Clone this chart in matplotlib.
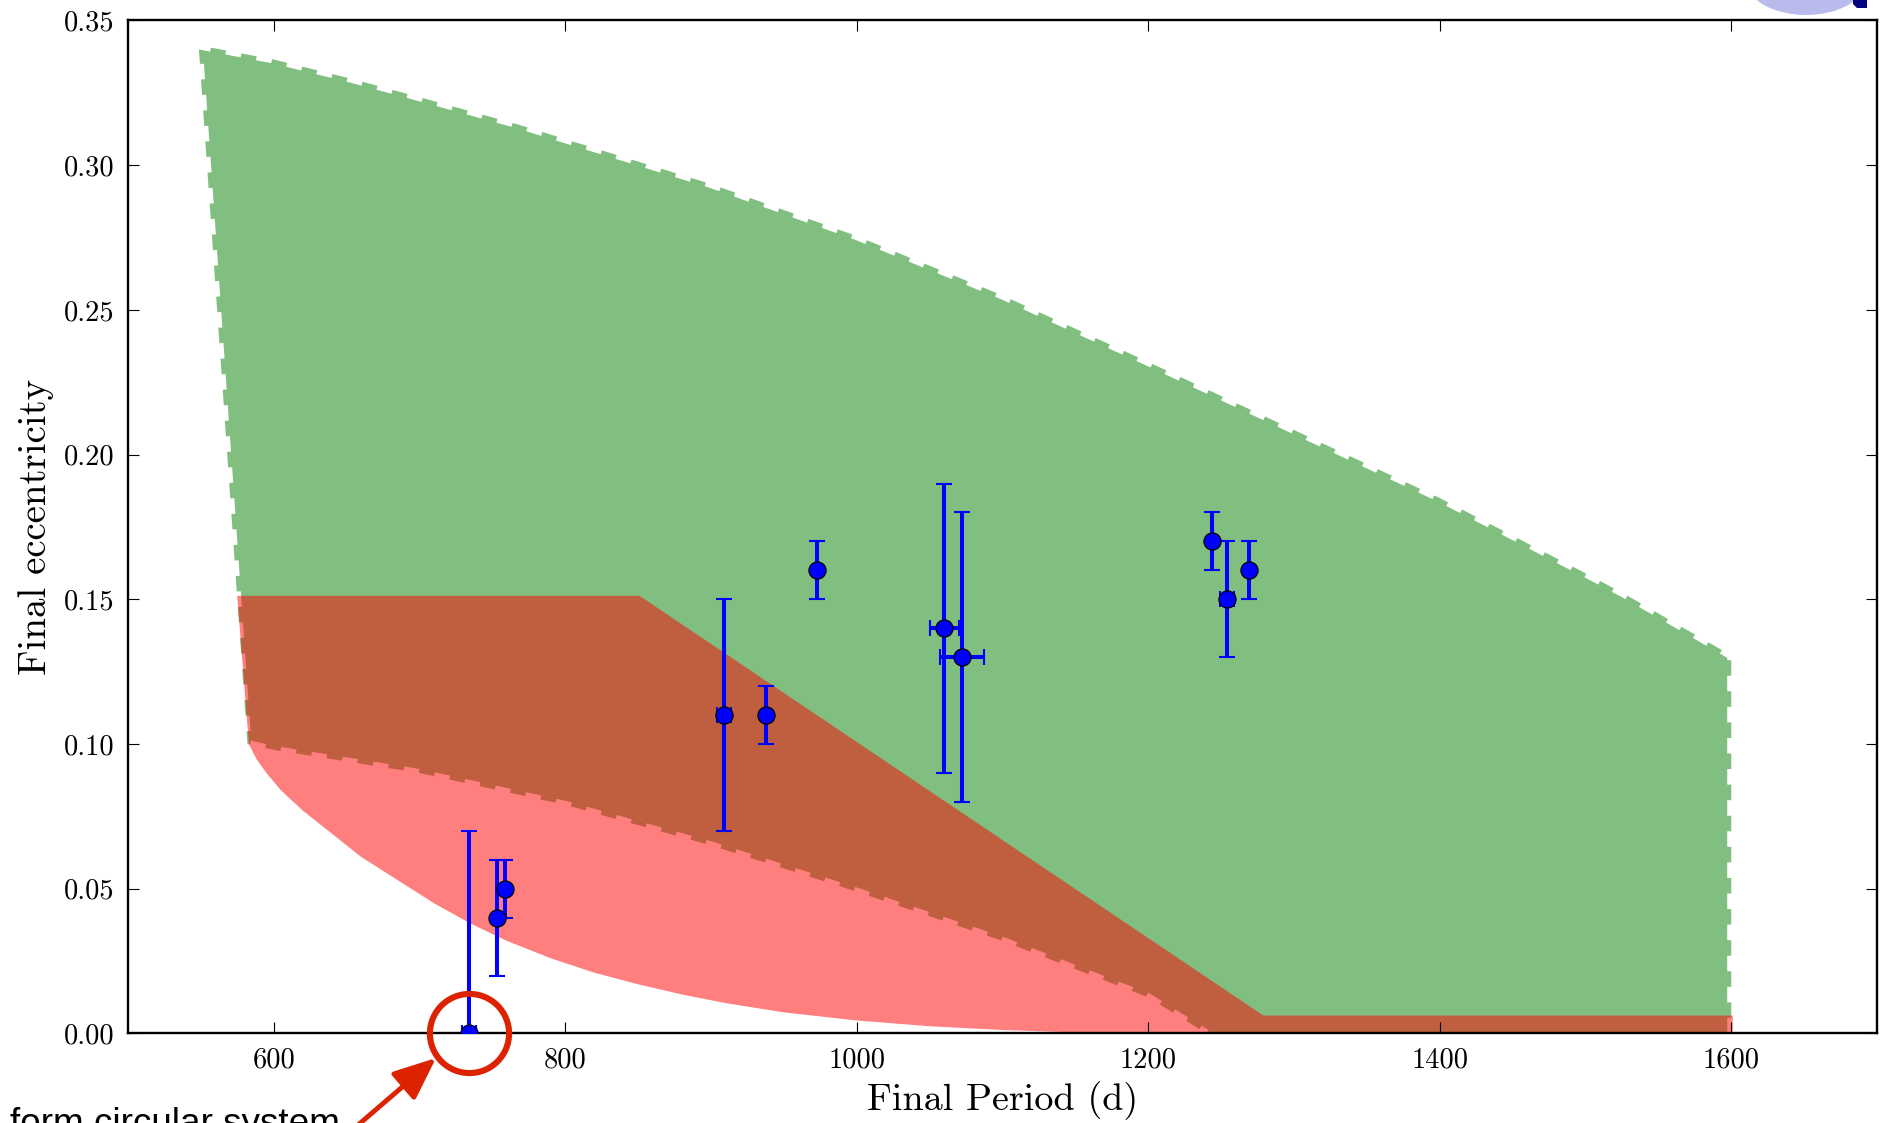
import matplotlib
matplotlib.use('Agg')
import matplotlib.pyplot as plt
from matplotlib.patches import Ellipse, Polygon
from matplotlib.transforms import IdentityTransform

plt.rcParams['font.family'] = 'serif'
plt.rcParams['font.serif'] = ['cmr10']
plt.rcParams['axes.formatter.use_mathtext'] = True
plt.rcParams['lines.scale_dashes'] = False

# observed systems
period = [734, 753, 759, 909, 938, 973, 1060, 1072, 1244, 1254, 1269]
ecc = [0.00, 0.04, 0.05, 0.11, 0.11, 0.16, 0.14, 0.13, 0.17, 0.15, 0.16]
ecc_lo = [0.00, 0.02, 0.01, 0.04, 0.01, 0.01, 0.05, 0.05, 0.01, 0.02, 0.01]
ecc_hi = [0.07, 0.02, 0.01, 0.04, 0.01, 0.01, 0.05, 0.05, 0.01, 0.02, 0.01]
period_err = [5, 0, 0, 5, 0, 0, 10, 15, 0, 5, 0]

# green model region
top_p = [548.5, 600, 653.7, 700, 768, 800, 900, 1000, 1100, 1200, 1300, 1400, 1500, 1528, 1600]
top_e = [0.3414, 0.3365, 0.3298, 0.3235, 0.3140, 0.309, 0.2935, 0.2755, 0.2550, 0.2320, 0.2085, 0.1850, 0.1590, 0.1515, 0.1306]
low_p = [582, 600, 700, 800, 900, 1000, 1100, 1200, 1240]
low_e = [0.100, 0.098, 0.090, 0.079, 0.065, 0.049, 0.032, 0.0125, 0.0]

# red model region
red_top_p = [575, 851, 1279, 1601]
red_top_e = [0.1512, 0.1512, 0.0062, 0.0062]
red_low_p = [583, 588, 595, 605, 620, 640, 660, 685, 710, 735, 760, 790, 820, 850,
             880, 910, 950, 1000, 1050, 1100, 1150, 1200]
red_low_e = [0.100, 0.095, 0.090, 0.084, 0.077, 0.069, 0.061, 0.053, 0.045, 0.038,
             0.032, 0.026, 0.021, 0.017, 0.0135, 0.0105, 0.0073, 0.0045, 0.0025,
             0.0012, 0.0004, 0.0]

xticks = [600, 800, 1000, 1200, 1400, 1600]
yticks = [0.00, 0.05, 0.10, 0.15, 0.20, 0.25, 0.30, 0.35]

fig = plt.figure(figsize=(18.84, 11.23), dpi=100)
ax = fig.add_axes([0.0679, 0.0797, 0.9284, 0.9021])

green = (0.5, 0.75, 0.5)
# green polygon
gx = top_p + [1600, 1240] + low_p[::-1]
gy = top_e + [0.0, 0.0] + low_e[::-1]
ax.fill(gx, gy, color=green, lw=0, zorder=1)
# dashed outline: white gaps over the fill
ex = [1600] + top_p[::-1] + low_p
ey = [0.0] + top_e[::-1] + low_e
ax.plot(ex, ey, color='white', lw=5.8, dashes=(11.2, 11.2), zorder=1.2,
        solid_joinstyle='miter')

# red polygon
rx = red_top_p + [1601] + red_low_p[::-1]
ry = red_top_e + [0.0] + red_low_e[::-1]
ax.fill(rx, ry, color=(1, 0, 0, 0.5), lw=0, zorder=1.4)

# data points
ax.errorbar(period, ecc, yerr=[ecc_lo, ecc_hi], fmt='none', ecolor='blue',
            elinewidth=2.9, capsize=5.8, capthick=1.5, zorder=3)
xe_p = [p for p, e in zip(period, period_err) if e > 0]
xe_e = [y for y, e in zip(ecc, period_err) if e > 0]
xe_v = [e for e in period_err if e > 0]
ax.errorbar(xe_p, xe_e, xerr=xe_v, fmt='none', ecolor='blue',
            elinewidth=2.9, capsize=5.8, capthick=1.5, zorder=3)
ax.plot(period, ecc, 'o', color='blue', mec='black', mew=0.9, ms=12.3, zorder=3.5)

# highlight circle
ax.plot([period[0]], [ecc[0]], 'o', mfc='none', mec='#dd2200', mew=4.4, ms=57,
        clip_on=False, zorder=5)

ax.set_xlim(500, 1700)
ax.set_ylim(0, 0.35)
ax.set_xticks(xticks)
ax.set_xticklabels([str(t) for t in xticks])
ax.set_yticks(yticks)
ax.set_yticklabels(['%.2f' % t for t in yticks])
ax.tick_params(direction='in', length=8, width=0.8, top=True, right=True,
               labelsize=20.5, pad=10)
for s in ax.spines.values():
    s.set_linewidth(1.7)
ax.set_xlabel('Final Period (d)', fontsize=27.5, labelpad=5)
ax.set_ylabel('Final eccentricity', fontsize=28, labelpad=7)

# annotation (figure pixel coordinates)
fig.text(340 / 1884, -11 / 1123, 'form circular system', ha='right', va='baseline',
         fontsize=26.6, family=['Liberation Sans', 'DejaVu Sans'])
ax.annotate('', xy=(436, 1123 - 1058), xytext=(358, 1123 - 1125),
            xycoords='figure pixels', textcoords='figure pixels',
            arrowprops=dict(arrowstyle='-|>,head_length=0.4,head_width=0.17',
                            color='#dd2200', lw=3.5, mutation_scale=65,
                            shrinkA=0, shrinkB=0),
            annotation_clip=False)

# pieces of neighbouring graphics at the top right
fig.patches.append(Ellipse((1806, 1143), 120, 70, transform=IdentityTransform(),
                           facecolor='#b8bbeb', edgecolor='none'))
fig.patches.append(Polygon([(1853, 1123), (1867, 1123), (1867, 1115), (1857, 1115), (1853, 1119)],
                           closed=True, transform=IdentityTransform(),
                           facecolor='#000080', edgecolor='none'))

fig.savefig('out.png', dpi=100)
